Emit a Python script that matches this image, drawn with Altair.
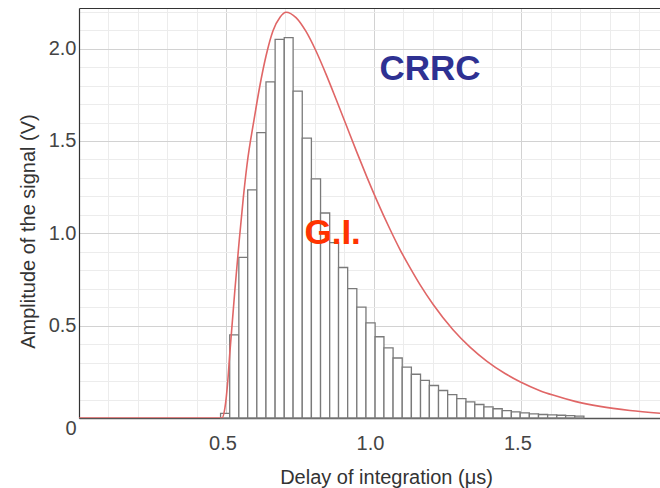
import altair as alt
import pandas as pd

# ---- data ----
bin_edges = [0.480, 0.511, 0.542, 0.572, 0.603, 0.634, 0.665, 0.696, 0.726, 0.757,
             0.788, 0.819, 0.850, 0.880, 0.911, 0.942, 0.973, 1.004, 1.034, 1.065,
             1.096, 1.127, 1.158, 1.188, 1.219, 1.250, 1.281, 1.312, 1.342, 1.373,
             1.404, 1.435, 1.466, 1.496, 1.527, 1.558, 1.589, 1.620, 1.650, 1.681, 1.712]
gi_amplitude = [0.025, 0.45, 0.87, 1.235, 1.545, 1.82, 2.05, 2.06, 1.77, 1.515,
                1.295, 1.11, 0.95, 0.815, 0.70, 0.60, 0.515, 0.44, 0.38, 0.325,
                0.275, 0.237, 0.204, 0.176, 0.149, 0.127, 0.105, 0.087, 0.073, 0.060,
                0.050, 0.040, 0.033, 0.028, 0.022, 0.019, 0.017, 0.015, 0.013, 0.010]

crrc_delay = [0.0, 0.4849, 0.4950, 0.5035, 0.5120, 0.5289, 0.5435, 0.5571, 0.5696, 0.5934,
              0.6138, 0.6341, 0.6578, 0.6816, 0.7019, 0.7358, 0.7697, 0.8036, 0.8375, 0.8714,
              0.9053, 0.9426, 0.9766, 1.0105, 1.0545, 1.0884, 1.1223, 1.1562, 1.2003, 1.2681,
              1.3258, 1.3834, 1.4445, 1.4953, 1.5631, 1.6072, 1.6818, 1.7666, 1.8683, 1.9701]
crrc_amplitude = [0.0, 0.0, 0.057, 0.181, 0.365, 0.700, 0.965, 1.192, 1.370, 1.614,
                  1.803, 1.960, 2.097, 2.170, 2.197, 2.168, 2.093, 1.987, 1.862, 1.727,
                  1.589, 1.437, 1.303, 1.176, 1.022, 0.912, 0.814, 0.722, 0.616, 0.478,
                  0.384, 0.307, 0.241, 0.196, 0.148, 0.124, 0.090, 0.063, 0.041, 0.026]

x_major = [0.5, 1.0, 1.5]
y_major = [0, 0.5, 1.0, 1.5, 2.0]
x_minor = [0.1, 0.2, 0.3, 0.4, 0.6, 0.7, 0.8, 0.9, 1.1, 1.2, 1.3, 1.4, 1.6, 1.7, 1.8, 1.9]
y_minor = [0.1, 0.2, 0.3, 0.4, 0.6, 0.7, 0.8, 0.9, 1.1, 1.2, 1.3, 1.4, 1.6, 1.7, 1.8, 1.9, 2.1, 2.2]

note_text = ["CRRC", "G.I."]
note_x = [1.19, 0.86]
note_y = [1.889, 1.0]
note_color = ["#2E3192", "#FF3300"]

bars = pd.DataFrame({"start": bin_edges[:-1], "end": bin_edges[1:], "amp": gi_amplitude})
curve = pd.DataFrame({"t": crrc_delay, "v": crrc_amplitude})
notes = pd.DataFrame({"x": note_x, "y": note_y, "label": note_text, "color": note_color})

FONT = "Arial, Liberation Sans, sans-serif"
xscale = alt.Scale(domain=[0, 1.97], nice=False, zero=False)
yscale = alt.Scale(domain=[0, 2.22], nice=False)

minor_x_axis = alt.Axis(values=x_minor, grid=True, gridColor="#ececec", gridWidth=1,
                        labels=False, ticks=False, domain=True, domainColor="#333333",
                        title=None, orient="top")
minor_y_axis = alt.Axis(values=y_minor, grid=True, gridColor="#ececec", gridWidth=1,
                        labels=False, ticks=False, domain=False, title=None, orient="right")

major_x_axis = alt.Axis(values=x_major, grid=True, gridColor="#d2d2d2", gridWidth=1,
                        ticks=False, domain=True, domainColor="#555555", domainWidth=1.5,
                        labelExpr="format(datum.value, '.1f')", labelFont=FONT,
                        labelFontSize=20, labelColor="#444444", labelPadding=15,
                        labelOffset=-4,
                        title="Delay of integration (μs)", titleFont=FONT, titleFontSize=20,
                        titleFontWeight="normal", titleColor="#333333",
                        titleX=307, titleY=49, titleBaseline="top", titleAlign="center",
                        orient="bottom")
major_y_axis = alt.Axis(values=y_major, grid=True, gridColor="#d2d2d2", gridWidth=1,
                        ticks=False, domain=True, domainColor="#333333", domainWidth=1.2,
                        labelExpr="datum.value == 0 ? '0' : format(datum.value, '.1f')",
                        labelBaseline={"condition": {"test": "datum.value === 0", "value": "top"},
                                       "value": "middle"},
                        labelFont=FONT, labelFontSize=20, labelColor="#444444", labelPadding=3,
                        title="Amplitude of the signal (V)", titleFont=FONT, titleFontSize=20,
                        titleFontWeight="normal", titleColor="#333333",
                        titleX=-51, titleY=223, titleBaseline="middle", titleAlign="center",
                        titleAngle=270, orient="left")

hist = alt.Chart(bars).mark_rect(fill="white", stroke="#7a7a7a", strokeWidth=1.3).encode(
    x=alt.X("start:Q", scale=xscale, axis=minor_x_axis),
    x2="end:Q",
    y=alt.Y("amp:Q", scale=yscale, axis=minor_y_axis),
    y2=alt.datum(0),
)

line = alt.Chart(curve).mark_line(color="#E06666", strokeWidth=1.6, interpolate="monotone",
                                  clip=True).encode(
    x=alt.X("t:Q", scale=xscale, axis=major_x_axis),
    y=alt.Y("v:Q", scale=yscale, axis=major_y_axis),
)

text = alt.Chart(notes).mark_text(font=FONT, fontSize=35, fontWeight="bold",
                                  align="center", baseline="middle").encode(
    x=alt.X("x:Q", scale=xscale, axis=None),
    y=alt.Y("y:Q", scale=yscale, axis=None),
    text="label:N",
    color=alt.Color("color:N", scale=None),
)

chart = alt.layer(hist, line, text).resolve_axis(x="independent", y="independent").properties(
    width=581, height=410,
    autosize=alt.AutoSizeParams(type="none"),
    padding={"left": 79, "top": 8, "right": 0, "bottom": 70},
    background="white",
).configure_view(stroke=None)

chart.save("out.html", embed_options={"renderer": "svg", "actions": False})
